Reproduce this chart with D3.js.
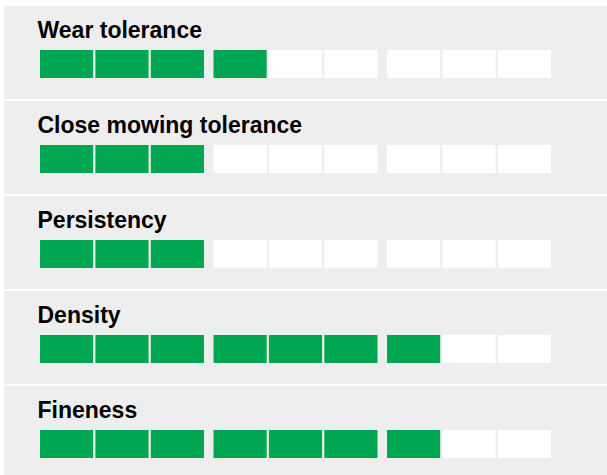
<!DOCTYPE html>
<html>
<head>
<meta charset="utf-8">
<script src="https://cdn.jsdelivr.net/npm/d3@7"></script>
<style>
  html, body { margin: 0; padding: 0; background: #ffffff; }
  svg { display: block; }
</style>
</head>
<body>
<div id="chart"></div>
<script>
// Data
const categories = ["Wear tolerance", "Close mowing tolerance", "Persistency", "Density", "Fineness"];
const ratings = [4, 3, 3, 7, 7];
const maxRating = 9;
const groups = [0, 1, 2];
const cellsPerGroup = [0, 1, 2];

const W = 607, H = 475;
const svg = d3.select("#chart").append("svg")
  .attr("width", W).attr("height", H);

svg.append("rect").attr("width", W).attr("height", H).attr("fill", "#ffffff");

const y = d3.scaleBand()
  .domain(categories)
  .range([6, 6 + 95 * 5 - 2])
  .paddingInner(2 / 95)
  .paddingOuter(0);

const gx = d3.scaleBand()
  .domain(groups)
  .range([40, 551])
  .paddingInner(0.055)
  .paddingOuter(0);

const cx = d3.scaleBand()
  .domain(cellsPerGroup)
  .range([0, gx.bandwidth()])
  .paddingInner(0.0406)
  .paddingOuter(0);

const data = categories.map((c, i) => ({ name: c, value: ratings[i] }));

const panel = svg.selectAll("g.panel")
  .data(data)
  .join("g")
  .attr("class", "panel")
  .attr("transform", d => `translate(0,${y(d.name)})`);

panel.append("rect")
  .attr("x", 4)
  .attr("y", 0)
  .attr("width", W - 4)
  .attr("height", y.bandwidth())
  .attr("fill", "#eeeeee");

panel.append("text")
  .attr("x", 37.5)
  .attr("y", 31.7)
  .attr("font-family", "'Liberation Sans', Arial, Helvetica, sans-serif")
  .attr("font-weight", "bold")
  .attr("font-size", "23px")
  .attr("fill", "#000000")
  .text(d => d.name);

const cellData = d => d3.range(maxRating).map(i => ({
  g: Math.floor(i / 3),
  c: i % 3,
  filled: i < d.value
}));

panel.selectAll("rect.cell")
  .data(cellData)
  .join("rect")
  .attr("class", "cell")
  .attr("x", d => gx(d.g) + cx(d.c))
  .attr("y", 44)
  .attr("width", cx.bandwidth())
  .attr("height", 28)
  .attr("fill", d => d.filled ? "#00a651" : "#ffffff");
</script>
</body>
</html>
